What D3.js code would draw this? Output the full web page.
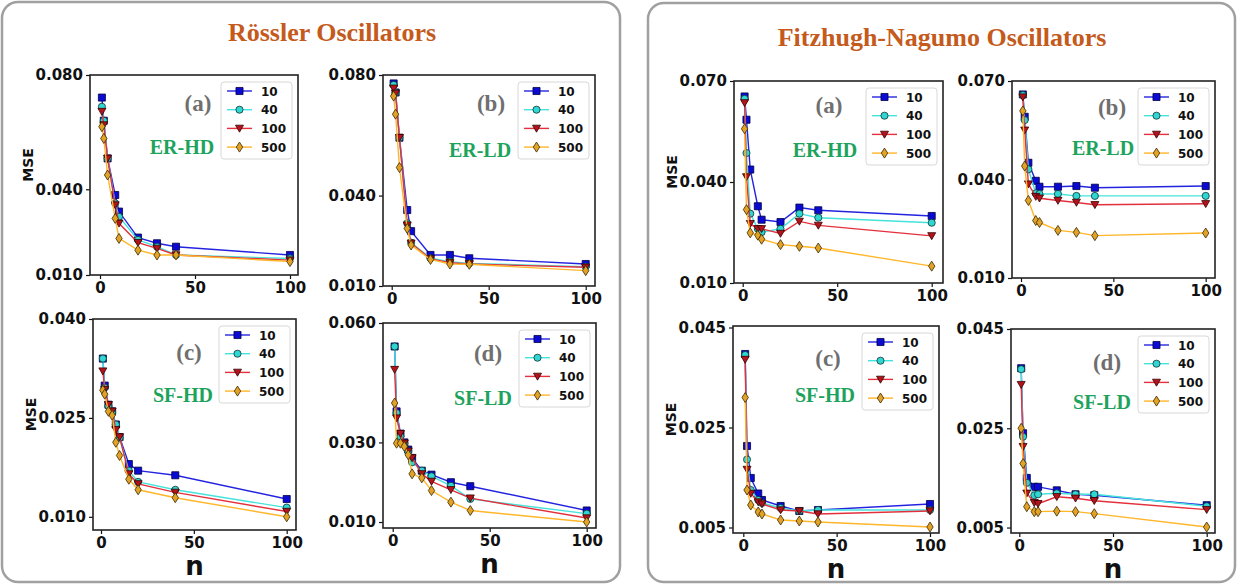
<!DOCTYPE html>
<html>
<head>
<meta charset="utf-8">
<script src="https://cdn.jsdelivr.net/npm/d3@7/dist/d3.min.js"></script>
<style>
  html, body { margin: 0; padding: 0; background: #fff; }
  svg { display: block; }
</style>
</head>
<body>
<svg id="fig" width="1237" height="584"></svg>
<script>
// ---- data ----
const seriesNames = ["10", "40", "100", "500"];
const nStd = [1, 2, 4, 8, 10, 20, 30, 40, 100];
const nRossC = [1, 2, 4, 6, 8, 10, 15, 20, 40, 100];
const nRossD = [1, 2, 4, 6, 8, 10, 15, 20, 30, 40, 100];

// Rössler
const rossA = [
  [0.0721, 0.0640, 0.0508, 0.0380, 0.0322, 0.0231, 0.0211, 0.0199, 0.0170],
  [0.0689, 0.0640, 0.0508, 0.0351, 0.0304, 0.0223, 0.0199, 0.0170, 0.0158],
  [0.0672, 0.0625, 0.0508, 0.0345, 0.0281, 0.0213, 0.0193, 0.0170, 0.0152],
  [0.0619, 0.0578, 0.0450, 0.0298, 0.0228, 0.0187, 0.0170, 0.0170, 0.0147]
];
const rossB = [
  [0.0772, 0.0742, 0.0592, 0.0352, 0.0282, 0.0203, 0.0203, 0.0192, 0.0173],
  [0.0767, 0.0742, 0.0592, 0.0308, 0.0244, 0.0192, 0.0181, 0.0175, 0.0164],
  [0.0756, 0.0739, 0.0592, 0.0302, 0.0242, 0.0190, 0.0177, 0.0173, 0.0162],
  [0.0730, 0.0670, 0.0493, 0.0291, 0.0236, 0.0188, 0.0173, 0.0172, 0.0151]
];
const rossC = [
  [0.0340, 0.0299, 0.0270, 0.0260, 0.0240, 0.0221, 0.0180, 0.0170, 0.0163, 0.0127],
  [0.0340, 0.0296, 0.0268, 0.0258, 0.0240, 0.0220, 0.0170, 0.0153, 0.0141, 0.0114],
  [0.0321, 0.0293, 0.0270, 0.0260, 0.0232, 0.0221, 0.0165, 0.0150, 0.0137, 0.0108],
  [0.0292, 0.0286, 0.0260, 0.0254, 0.0213, 0.0193, 0.0157, 0.0141, 0.0129, 0.0100]
];
const rossD = [
  [0.0541, 0.0378, 0.0322, 0.0300, 0.0282, 0.0261, 0.0229, 0.0219, 0.0200, 0.0190, 0.0129],
  [0.0541, 0.0374, 0.0315, 0.0298, 0.0278, 0.0250, 0.0229, 0.0215, 0.0191, 0.0158, 0.0121],
  [0.0483, 0.0361, 0.0322, 0.0298, 0.0278, 0.0261, 0.0221, 0.0202, 0.0181, 0.0160, 0.0110],
  [0.0399, 0.0298, 0.0298, 0.0290, 0.0269, 0.0221, 0.0211, 0.0179, 0.0150, 0.0129, 0.0100]
];

// Fitzhugh-Nagumo
const fhnA = [
  [0.0654, 0.0585, 0.0437, 0.0328, 0.0288, 0.0281, 0.0324, 0.0316, 0.0299],
  [0.0647, 0.0486, 0.0306, 0.0261, 0.0251, 0.0261, 0.0306, 0.0294, 0.0279],
  [0.0635, 0.0415, 0.0276, 0.0261, 0.0261, 0.0247, 0.0283, 0.0271, 0.0240],
  [0.0558, 0.0318, 0.0249, 0.0242, 0.0230, 0.0214, 0.0209, 0.0204, 0.0150]
];
const fhnB = [
  [0.0659, 0.0591, 0.0451, 0.0396, 0.0378, 0.0378, 0.0380, 0.0375, 0.0380],
  [0.0657, 0.0581, 0.0431, 0.0358, 0.0356, 0.0356, 0.0350, 0.0350, 0.0350],
  [0.0651, 0.0550, 0.0386, 0.0348, 0.0343, 0.0336, 0.0330, 0.0323, 0.0326],
  [0.0609, 0.0441, 0.0336, 0.0275, 0.0269, 0.0245, 0.0239, 0.0229, 0.0237]
];
const fhnC = [
  [0.0397, 0.0213, 0.0149, 0.0118, 0.0105, 0.0093, 0.0083, 0.0085, 0.0097],
  [0.0395, 0.0186, 0.0125, 0.0105, 0.0099, 0.0089, 0.0083, 0.0085, 0.0085],
  [0.0386, 0.0166, 0.0118, 0.0101, 0.0097, 0.0085, 0.0083, 0.0077, 0.0083],
  [0.0310, 0.0125, 0.0095, 0.0081, 0.0077, 0.0065, 0.0063, 0.0061, 0.0051]
];
const fhnD = [
  [0.0371, 0.0240, 0.0150, 0.0132, 0.0132, 0.0125, 0.0117, 0.0115, 0.0095],
  [0.0369, 0.0233, 0.0140, 0.0115, 0.0117, 0.0119, 0.0117, 0.0117, 0.0093],
  [0.0338, 0.0213, 0.0119, 0.0100, 0.0098, 0.0112, 0.0109, 0.0104, 0.0086],
  [0.0250, 0.0179, 0.0092, 0.0082, 0.0082, 0.0083, 0.0082, 0.0078, 0.0051]
];

const xTicks = [0, 50, 100];
const yTicksRossAB = [0.010, 0.040, 0.080];
const yTicksRossC = [0.010, 0.025, 0.040];
const yTicksRossD = [0.010, 0.030, 0.060];
const yTicksFhnAB = [0.010, 0.040, 0.070];
const yTicksFhnCD = [0.005, 0.025, 0.045];

// ---- styling ----
const lineColors = ["#2424e0", "#45e3dc", "#e3303c", "#ffb62a"];
const markColors = ["#0a0ad2", "#2fd6d2", "#b3141c", "#e2a226"];
const edgeColors = ["#000044", "#0c3333", "#330000", "#3a2800"];

const svg = d3.select("#fig");

// outer rounded frames
svg.append("rect").attr("x", 2).attr("y", 2).attr("width", 618).attr("height", 580)
  .attr("rx", 16).attr("fill", "none").attr("stroke", "#a0a0a0").attr("stroke-width", 2.5);
svg.append("rect").attr("x", 648).attr("y", 3).attr("width", 587).attr("height", 579)
  .attr("rx", 16).attr("fill", "none").attr("stroke", "#a0a0a0").attr("stroke-width", 2.5);

svg.append("text").attr("x", 332).attr("y", 41).attr("text-anchor", "middle")
  .attr("font-family", "Liberation Serif").attr("font-weight", "bold")
  .attr("font-size", 26).attr("fill", "#c45a1c").text("Rössler Oscillators");
svg.append("text").attr("x", 942).attr("y", 46).attr("text-anchor", "middle")
  .attr("font-family", "Liberation Serif").attr("font-weight", "bold")
  .attr("font-size", 26).attr("fill", "#c45a1c").text("Fitzhugh-Nagumo Oscillators");

// marker shapes
function markerPath(i) {
  if (i === 0) return d3.symbol().type(d3.symbolSquare).size(50)();
  if (i === 1) return d3.symbol().type(d3.symbolCircle).size(40)();
  if (i === 2) return "M-4,-3.2L4,-3.2L0,3.8Z";
  return "M0,-5L3.2,0L0,5L-3.2,0Z";
}

function drawPanel(p) {
  const k = (p.x100 - p.x0) / 100;
  const x = d3.scaleLinear()
    .domain([(p.left - p.x0) / k, (p.right - p.x0) / k])
    .range([p.left, p.right]);
  const y = d3.scaleLinear().domain(p.ydom).range([p.bottom, p.top]);

  const g = svg.append("g");

  // series
  p.series.forEach((vals, i) => {
    const pts = vals.map((v, j) => [p.n[j], v]);
    g.append("path").datum(pts)
      .attr("d", d3.line().x(d => x(d[0])).y(d => y(d[1])))
      .attr("fill", "none").attr("stroke", lineColors[i]).attr("stroke-width", 1.4);
    g.selectAll(null).data(pts).enter().append("path")
      .attr("transform", d => `translate(${x(d[0])},${y(d[1])})`)
      .attr("d", markerPath(i))
      .attr("fill", markColors[i]).attr("stroke", edgeColors[i]).attr("stroke-width", 0.8);
  });

  // axes
  const ax = g.append("g").attr("transform", `translate(0,${p.bottom})`)
    .call(d3.axisBottom(x).tickValues(xTicks).tickSize(4).tickPadding(3).tickFormat(d3.format("d")));
  const ay = g.append("g").attr("transform", `translate(${p.left},0)`)
    .call(d3.axisLeft(y).tickValues(p.yticks).tickSize(4).tickPadding(3).tickFormat(d3.format(".3f")));
  [ax, ay].forEach(a => {
    a.select(".domain").remove();
    a.selectAll(".tick line").attr("stroke", "#111").attr("stroke-width", 1.2);
    a.selectAll(".tick text").attr("font-family", "DejaVu Sans").attr("font-weight", "bold")
      .attr("font-size", 15).attr("fill", "#111");
  });
  g.append("rect").attr("x", p.left).attr("y", p.top)
    .attr("width", p.right - p.left).attr("height", p.bottom - p.top)
    .attr("fill", "none").attr("stroke", "#222").attr("stroke-width", 1.6);

  // legend
  const bx = p.right - 77, by = p.top + 7;
  const lg = g.append("g");
  lg.append("rect").attr("x", bx).attr("y", by).attr("width", 71).attr("height", 77)
    .attr("rx", 3).attr("fill", "#fff").attr("fill-opacity", 0.85)
    .attr("stroke", "#d8d8d8").attr("stroke-width", 1);
  seriesNames.forEach((s, i) => {
    const ly = by + 9 + i * 18.7;
    lg.append("line").attr("x1", bx + 6).attr("x2", bx + 31).attr("y1", ly).attr("y2", ly)
      .attr("stroke", lineColors[i]).attr("stroke-width", 1.4);
    lg.append("path").attr("transform", `translate(${bx + 18.5},${ly})`).attr("d", markerPath(i))
      .attr("fill", markColors[i]).attr("stroke", edgeColors[i]).attr("stroke-width", 0.8);
    lg.append("text").attr("x", bx + 40).attr("y", ly + 4.5)
      .attr("font-family", "DejaVu Sans").attr("font-weight", "bold").attr("font-size", 12)
      .attr("fill", "#111").text(s);
  });

  // panel labels
  g.append("text").attr("x", p.tag[0]).attr("y", p.tag[1] + 8).attr("text-anchor", "middle")
    .attr("font-family", "Liberation Serif").attr("font-weight", "bold").attr("font-size", 23)
    .attr("fill", "#6f6f6f").text(p.tagText);
  g.append("text").attr("x", p.net[0]).attr("y", p.net[1] + 7).attr("text-anchor", "middle")
    .attr("font-family", "Liberation Serif").attr("font-weight", "bold").attr("font-size", 20)
    .attr("fill", "#1ea35c").text(p.netText);

  if (p.mse) {
    g.append("text").attr("transform", `translate(${p.left - 57},${(p.top + p.bottom) / 2 - 10}) rotate(-90)`)
      .attr("text-anchor", "middle").attr("font-family", "DejaVu Sans").attr("font-weight", "bold")
      .attr("font-size", 14).attr("fill", "#111").text("MSE");
  }
  if (p.nlab) {
    g.append("text").attr("x", (p.left + p.right) / 2).attr("y", p.bottom + 45)
      .attr("text-anchor", "middle").attr("font-family", "DejaVu Sans").attr("font-weight", "bold")
      .attr("font-size", 26).attr("fill", "#111").text("n");
  }
}

const panels = [
  { left: 90, right: 298, top: 75, bottom: 275, x0: 100, x100: 290, ydom: [0.010, 0.080],
    yticks: yTicksRossAB, n: nStd, series: rossA, tag: [198, 103], tagText: "(a)",
    net: [182, 147], netText: "ER-HD", mse: true },
  { left: 383, right: 595, top: 75, bottom: 286, x0: 391.7, x100: 585.7, ydom: [0.010, 0.080],
    yticks: yTicksRossAB, n: nStd, series: rossB, tag: [491, 103], tagText: "(b)",
    net: [480, 150], netText: "ER-LD" },
  { left: 93, right: 296, top: 319, bottom: 530, x0: 101, x100: 286.7, ydom: [0.008, 0.040],
    yticks: yTicksRossC, n: nRossC, series: rossC, tag: [189, 352], tagText: "(c)",
    net: [183, 395], netText: "SF-HD", mse: true, nlab: true },
  { left: 383, right: 596, top: 323, bottom: 528, x0: 392.7, x100: 586.7, ydom: [0.0085, 0.060],
    yticks: yTicksRossD, n: nRossD, series: rossD, tag: [488, 353], tagText: "(d)",
    net: [483, 398], netText: "SF-LD", nlab: true },
  { left: 734, right: 943, top: 81, bottom: 283, x0: 742.7, x100: 931.7, ydom: [0.010, 0.070],
    yticks: yTicksFhnAB, n: nStd, series: fhnA, tag: [829, 105], tagText: "(a)",
    net: [825, 150], netText: "ER-HD", mse: true },
  { left: 1012, right: 1215, top: 81, bottom: 278, x0: 1021, x100: 1205.7, ydom: [0.010, 0.070],
    yticks: yTicksFhnAB, n: nStd, series: fhnB, tag: [1112, 107], tagText: "(b)",
    net: [1103, 148], netText: "ER-LD" },
  { left: 733, right: 939, top: 326, bottom: 533, x0: 743.3, x100: 930, ydom: [0.0039, 0.0453],
    yticks: yTicksFhnCD, n: nStd, series: fhnC, tag: [828, 358], tagText: "(c)",
    net: [825, 395], netText: "SF-HD", mse: true, nlab: true },
  { left: 1011, right: 1215, top: 329, bottom: 533, x0: 1019.3, x100: 1206.7, ydom: [0.0039, 0.045],
    yticks: yTicksFhnCD, n: nStd, series: fhnD, tag: [1107, 362], tagText: "(d)",
    net: [1102, 402], netText: "SF-LD", nlab: true }
];

panels.forEach(drawPanel);
</script>
</body>
</html>
